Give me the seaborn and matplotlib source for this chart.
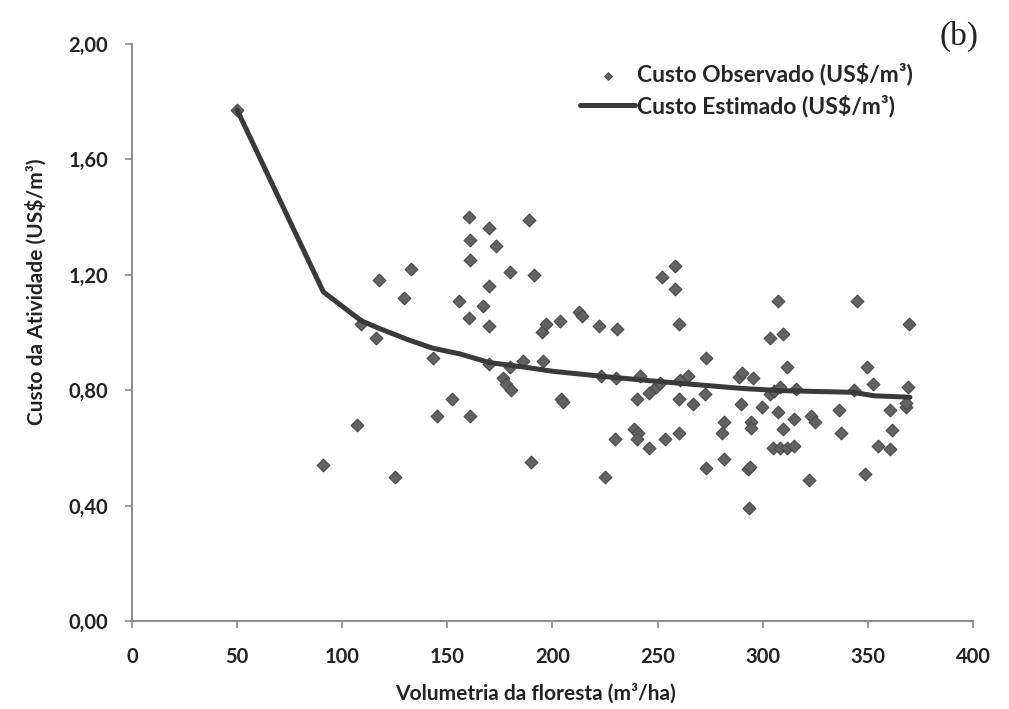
import numpy as np
import pandas as pd
import matplotlib
matplotlib.use("Agg")
import matplotlib.pyplot as plt
from matplotlib.ticker import FuncFormatter
import seaborn as sns

# volumetria (m3/ha) e custo observado (US$/m3)
vol_obs = [50, 91, 107, 109, 116, 117.5, 125, 129.5, 132.5, 143, 145, 152, 155.5,
           160.5, 161, 161, 160.5, 161, 167, 170, 170, 170, 170, 173, 176.5, 178,
           180.5, 180, 180, 186, 189, 190, 191, 195, 195.5, 197, 203.5, 204, 205,
           212.5, 214, 222, 223, 225, 229.5, 230, 230.5, 239, 240.5, 240, 240,
           241.5, 246, 246, 249, 251, 252, 253.5, 258.5, 258.5, 260, 260.5, 264.5,
           260, 260, 267, 272.5, 273, 273, 280.5, 281.5, 281.5, 288.5, 290, 289.5,
           293.5, 293, 294, 294.5, 294.5, 295.5, 299.5, 303.5, 303.5, 305.5, 308,
           307.5, 307.5, 309.5, 309.5, 305, 308, 311.5, 315, 311.5, 316, 315, 322,
           323, 325, 336.5, 337, 343.5, 345, 348.5, 349.5, 352.5, 355, 360.5, 360.5,
           361.5, 368, 368, 369, 369.5]
custo_obs = [1.77, 0.54, 0.68, 1.03, 0.98, 1.18, 0.50, 1.12, 1.22, 0.91, 0.71, 0.77, 1.11,
             1.40, 1.32, 1.25, 1.05, 0.71, 1.09, 1.36, 1.16, 1.02, 0.89, 1.30, 0.84, 0.82,
             0.80, 0.88, 1.21, 0.90, 1.39, 0.55, 1.20, 1.00, 0.90, 1.03, 1.04, 0.77, 0.76,
             1.07, 1.055, 1.02, 0.85, 0.50, 0.63, 0.84, 1.01, 0.665, 0.65, 0.63, 0.77,
             0.85, 0.60, 0.79, 0.81, 0.825, 1.19, 0.63, 1.23, 1.15, 1.03, 0.835, 0.85,
             0.77, 0.65, 0.75, 0.785, 0.91, 0.53, 0.65, 0.69, 0.56, 0.845, 0.86, 0.75,
             0.39, 0.525, 0.535, 0.69, 0.67, 0.84, 0.74, 0.98, 0.785, 0.795, 0.81,
             1.11, 0.725, 0.995, 0.665, 0.60, 0.60, 0.60, 0.605, 0.88, 0.805, 0.70, 0.49,
             0.71, 0.69, 0.73, 0.65, 0.80, 1.11, 0.51, 0.88, 0.82, 0.605, 0.73, 0.595,
             0.66, 0.74, 0.755, 0.81, 1.03]

# curva do custo estimado
vol_est = [50, 91, 109, 117, 131, 143, 156, 170, 186, 200, 223, 242, 261, 291, 308, 343, 353, 370]
custo_est = [1.77, 1.14, 1.04, 1.015, 0.975, 0.945, 0.925, 0.895, 0.88, 0.865, 0.848,
             0.835, 0.823, 0.805, 0.798, 0.792, 0.78, 0.775]

y_ticks = [0, 0.4, 0.8, 1.2, 1.6, 2.0]
x_ticks = [0, 50, 100, 150, 200, 250, 300, 350, 400]

obs = pd.DataFrame({"vol": vol_obs, "custo": custo_obs})
est = pd.DataFrame({"vol": vol_est, "custo": custo_est})

sns.set_style("ticks")
plt.rcParams["font.family"] = ["Lato", "DejaVu Sans"]
plt.rcParams["font.weight"] = "bold"

fig = plt.figure(figsize=(10.09, 7.09), dpi=100)
ax = fig.add_axes([0.1308, 0.1241, 0.8335, 0.8145])

sns.scatterplot(data=obs, x="vol", y="custo", marker="D", s=42, color="#626262",
                edgecolor="#4a4a4a", linewidth=0.8, ax=ax, zorder=2,
                label="Custo Observado (US$/m³)")
sns.lineplot(data=est, x="vol", y="custo", estimator=None, sort=True, color="#3a3a3a",
             linewidth=3.6, ax=ax, zorder=3, label="Custo Estimado (US$/m³)")

ax.set_xlim(0, 400)
ax.set_ylim(0, 2.0)
ax.set_xticks(x_ticks)
ax.set_yticks(y_ticks)
ax.yaxis.set_major_formatter(FuncFormatter(lambda v, p: f"{v:.2f}".replace(".", ",")))

for side in ["top", "right"]:
    ax.spines[side].set_visible(False)
for side in ["left", "bottom"]:
    ax.spines[side].set_color("#8a8a8a")
    ax.spines[side].set_linewidth(1.4)
ax.tick_params(axis="both", colors="#8a8a8a", length=5, width=1.2, labelsize=14.5,
               labelcolor="#222222")
ax.tick_params(axis="x", pad=14)
ax.tick_params(axis="y", pad=12)

ax.set_xlabel("Volumetria da floresta (m³/ha)", fontsize=15, fontweight="bold", color="#222222")
ax.set_ylabel("Custo da Atividade (US$/m³)", fontsize=15, fontweight="bold", color="#222222")
ax.xaxis.set_label_coords(0.48, -0.108)
ax.yaxis.set_label_coords(-0.101, 0.57)

ax.legend(loc="upper left", bbox_to_anchor=(580 / 1009, 1 - 63 / 709),
          bbox_transform=fig.transFigure, frameon=False, borderpad=0, borderaxespad=0,
          prop={"weight": "bold", "size": 16.5}, handlelength=2.4, handletextpad=0.1,
          labelspacing=0.4, markerscale=0.6)

fig.text(0.95, 0.948, "(b)", fontsize=24, fontweight="normal",
         family=["Liberation Serif", "DejaVu Serif"], ha="center", va="center", color="#222222")

fig.savefig("out.png", dpi=100)
